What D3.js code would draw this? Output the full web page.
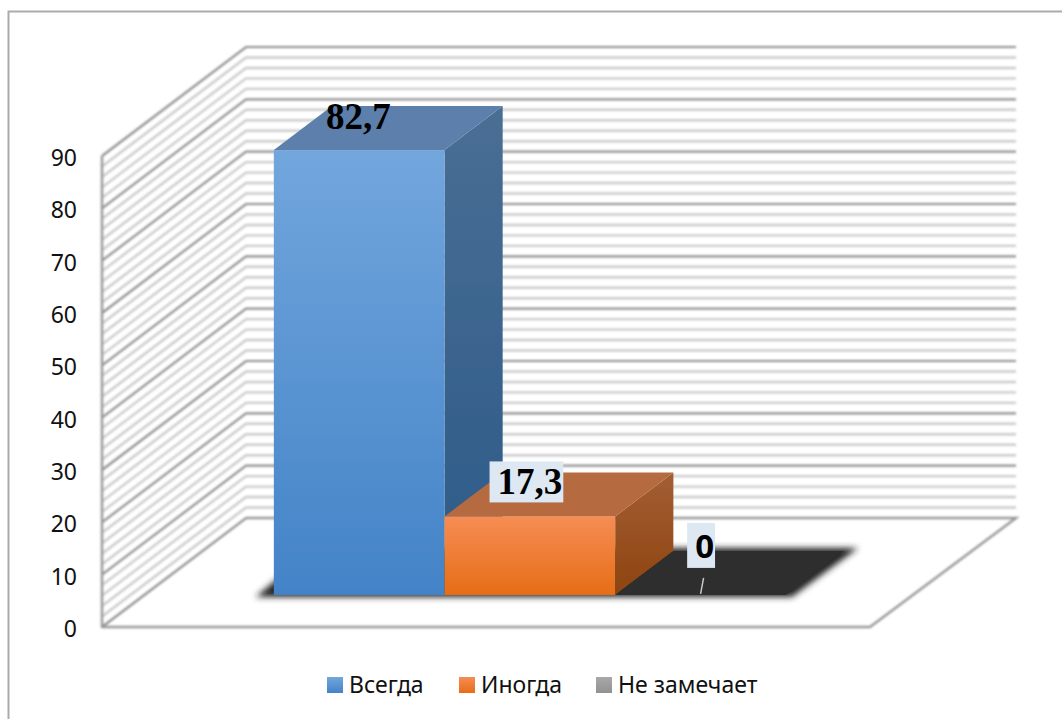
<!DOCTYPE html>
<html>
<head>
<meta charset="utf-8">
<script src="https://cdn.jsdelivr.net/npm/d3@7"></script>
<style>
  html, body { margin: 0; padding: 0; background: #fff; }
  text { font-family: "Noto Sans", sans-serif; fill: #111; }
</style>
</head>
<body>
<script>
const seriesNames = ['Всегда', 'Иногда', 'Не замечает'];
// bar heights as drawn (they do not quite follow the printed labels)
const barValues = [85, 15, 0];
const barLabels = ['82,7', '17,3', '0'];
const majorTicks = d3.range(0, 91, 10);
const minorTicks = d3.range(0, 91, 2);

const frontColors = [['#72a6dd', '#4383c7'], ['#f68d54', '#e66d16'], ['#a8a8a8', '#929292']];
const topColors = ['#5b80ab', '#b66b41', '#2e2e2e'];
const sideColors = [['#4a6e94', '#2b5a88'], ['#a35e34', '#8d4410'], ['#2e2e2e', '#2e2e2e']];

const width = 1062, height = 719;

// the box: front plane and how far the back wall is shifted
const wallDx = 144, wallDy = -109;
const floorLeft = 102, floorRight = 870;
const y = d3.scaleLinear().domain([0, 90]).range([627, 156]);
const x = d3.scaleBand().domain(seriesNames).range([floorLeft, floorRight])
    .paddingInner(0).paddingOuter(0.75);

// bars stand in the middle of the floor depth
const barStart = 0.294, barDepth = 0.404;
const project = (px, py, d) => [px + wallDx * d, py + wallDy * d];
const pts = list => list.map(p => p.join(',')).join(' ');

const svg = d3.select('body').append('svg')
    .attr('width', width)
    .attr('height', height)
    .style('display', 'block');

const defs = svg.append('defs');
const addGradient = (id, c) => {
    const g = defs.append('linearGradient').attr('id', id)
        .attr('x1', 0).attr('y1', 0).attr('x2', 0).attr('y2', 1);
    g.append('stop').attr('offset', '0%').attr('stop-color', c[0]);
    g.append('stop').attr('offset', '100%').attr('stop-color', c[1]);
};
frontColors.forEach((c, i) => addGradient(`front${i}`, c));
sideColors.forEach((c, i) => addGradient(`side${i}`, c));
defs.append('filter').attr('id', 'soft')
    .append('feGaussianBlur').attr('stdDeviation', 0.8);
defs.append('filter').attr('id', 'barSoft')
    .append('feGaussianBlur').attr('stdDeviation', 0.4);
defs.append('filter').attr('id', 'shadow')
    .attr('x', '-10%').attr('y', '-30%').attr('width', '120%').attr('height', '160%')
    .append('feGaussianBlur').attr('stdDeviation', 3);

// outer frame
svg.append('path')
    .attr('d', `M8.5,${height}V11.5H${width}`)
    .attr('fill', 'none')
    .attr('stroke', '#ababab')
    .attr('stroke-width', 2);

// walls and floor
const grid = svg.append('g').attr('filter', 'url(#soft)').attr('fill', 'none');
const backRight = 1016;

const isMajor = t => t % 10 === 0;
grid.selectAll('.gridline')
    .data(minorTicks)
    .enter().append('polyline')
    .attr('class', 'gridline')
    .attr('points', t => pts([
        [floorLeft, y(t)],
        project(floorLeft, y(t), 1),
        [backRight, y(t) + wallDy]
    ]))
    .attr('stroke', t => isMajor(t) ? '#909090' : '#cbcbcb')
    .attr('stroke-width', t => isMajor(t) ? 2.2 : 2.4);

grid.append('line')
    .attr('x1', floorLeft).attr('x2', floorLeft)
    .attr('y1', y(0) + 1).attr('y2', y(90))
    .attr('stroke', '#999').attr('stroke-width', 2.5);

grid.append('polyline')
    .attr('points', pts([
        project(floorLeft, y(0), 1),
        [backRight, y(0) + wallDy],
        [floorRight, y(0)],
        [floorLeft, y(0)]
    ]))
    .attr('stroke', '#999')
    .attr('stroke-width', 2.5);

const baseY = y(0) + wallDy * barStart;
const topDx = wallDx * barDepth, topDy = wallDy * barDepth;
const barX = s => x(s) + wallDx * barStart + 1.5;
const barY = v => y(v) + wallDy * barStart;

// soft shadow on the floor
const firstX = barX(seriesNames[0]);
const lastX = barX(seriesNames[2]) + x.bandwidth();
svg.append('polygon')
    .attr('points', pts([
        [firstX - 18, baseY + 2],
        [lastX + 6, baseY + 2],
        [lastX + topDx + 14, baseY + topDy - 3],
        [firstX + topDx - 18, baseY + topDy - 3]
    ]))
    .attr('fill', '#222')
    .attr('filter', 'url(#shadow)');

const bars = svg.selectAll('.bar')
    .data(seriesNames.map((name, i) => ({ name, i, value: barValues[i] })))
    .enter().append('g')
    .attr('class', 'bar')
    .attr('filter', 'url(#barSoft)');

// side face, then top, then front
bars.append('polygon')
    .attr('points', d => {
        const r = barX(d.name) + x.bandwidth();
        return pts([[r, barY(d.value)], [r + topDx, barY(d.value) + topDy], [r + topDx, baseY + topDy], [r, baseY]]);
    })
    .attr('fill', d => `url(#side${d.i})`);

bars.append('polygon')
    .attr('points', d => {
        const l = barX(d.name), w = x.bandwidth(), t = barY(d.value);
        return pts([[l, t], [l + w, t], [l + w + topDx, t + topDy], [l + topDx, t + topDy]]);
    })
    .attr('fill', d => topColors[d.i]);

bars.filter(d => d.value > 0).append('rect')
    .attr('x', d => barX(d.name))
    .attr('y', d => barY(d.value))
    .attr('width', x.bandwidth())
    .attr('height', d => baseY - barY(d.value))
    .attr('fill', d => `url(#front${d.i})`);

// y axis labels
const axis = d3.axisLeft(y).tickValues(majorTicks).tickSize(0).tickPadding(25);
const axisG = svg.append('g')
    .attr('transform', `translate(${floorLeft},2)`)
    .call(axis);
axisG.select('.domain').remove();
axisG.selectAll('text')
    .style('font-family', '"Noto Sans", sans-serif')
    .style('font-size', '23px')
    .attr('fill', '#111');

// data labels, nudged off the bar centres the way they sit in the chart
const labelAt = i => barX(seriesNames[i]) + x.bandwidth() / 2 + topDx / 2;
const labelNudgeX = [-30, -29, -25];
const labelNudgeY = [23, 22, 7];
const labelG = svg.selectAll('.value-label')
    .data(barLabels)
    .enter().append('g')
    .attr('class', 'value-label');

const labelSerif = [true, true, false];
labelG.append('text')
    .attr('x', (d, i) => labelAt(i) + labelNudgeX[i])
    .attr('y', (d, i) => barY(barValues[i]) + topDy + labelNudgeY[i])
    .attr('text-anchor', 'middle')
    .style('font-family', (d, i) => labelSerif[i] ? '"Liberation Serif", serif' : '"Noto Sans", sans-serif')
    .style('font-weight', 'bold')
    .style('font-size', (d, i) => labelSerif[i] ? '37px' : '33px')
    .style('fill', '#000')
    .text(d => d);

// pale box behind the two lower labels
labelG.each(function(d, i) {
    if (i === 0) return;
    const b = this.querySelector('text').getBBox();
    d3.select(this).insert('rect', 'text')
        .attr('x', b.x - 8)
        .attr('y', b.y)
        .attr('width', b.width + 9)
        .attr('height', b.height)
        .attr('fill', '#dde8f3');
});

// leader line of the zero label
const zeroX = labelAt(2) + labelNudgeX[2];
svg.append('line')
    .attr('x1', zeroX - 1).attr('x2', zeroX - 4)
    .attr('y1', baseY - 17).attr('y2', baseY - 1)
    .attr('stroke', '#c8c8c8')
    .attr('stroke-width', 1.5);

// legend
const legendX = d3.scaleOrdinal().domain(seriesNames).range([327, 459, 596]);
const legend = svg.selectAll('.legend')
    .data(seriesNames)
    .enter().append('g')
    .attr('class', 'legend')
    .attr('transform', d => `translate(${legendX(d)},677)`);
legend.append('rect')
    .attr('width', 16).attr('height', 16)
    .attr('fill', (d, i) => `url(#front${i})`);
legend.append('text')
    .attr('x', 22).attr('y', 16)
    .style('font-size', '23px')
    .text(d => d);
</script>
</body>
</html>
